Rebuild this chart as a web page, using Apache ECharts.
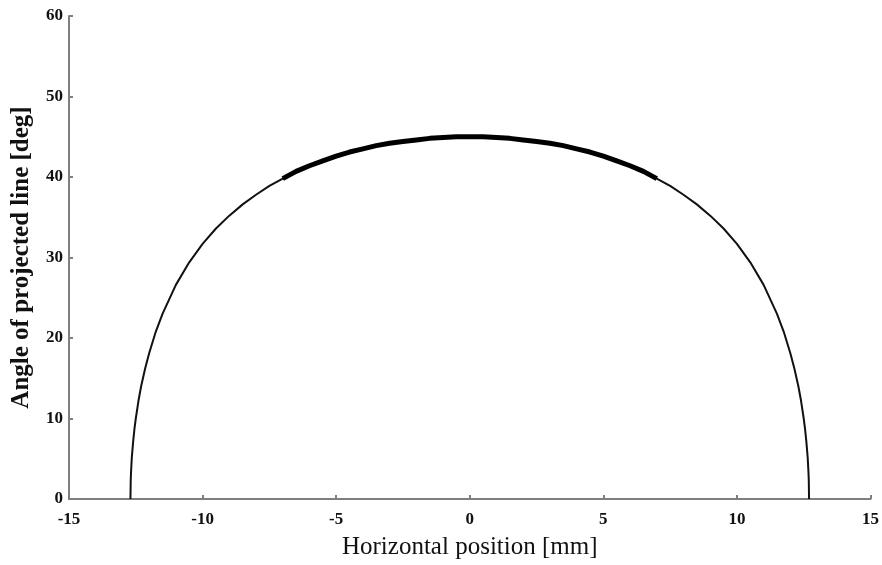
<!DOCTYPE html>
<html>
<head>
<meta charset="utf-8">
<script src="https://cdn.jsdelivr.net/npm/echarts@6/dist/echarts.min.js"></script>
<style>
  html, body { margin: 0; padding: 0; background: #fff; }
  #chart { width: 882px; height: 565px; }
</style>
</head>
<body>
<div id="chart"></div>
<script>
// 曲线数据
var xPos = [-12.7, -12.69, -12.68, -12.65, -12.6, -12.55, -12.5, -12.4, -12.3, -12.15, -12, -11.75, -11.5, -11, -10.5, -10, -9.5, -9, -8.5, -8, -7.5, -7, -6.5, -6, -5.5, -5, -4.5, -4, -3.5, -3, -2.5, -2, -1.5, -1, -0.5,
            0, 0.5, 1, 1.5, 2, 2.5, 3, 3.5, 4, 4.5, 5, 5.5, 6, 6.5, 7, 7.5, 8, 8.5, 9, 9.5, 10, 10.5, 11, 11.5, 11.75, 12, 12.15, 12.3, 12.4, 12.5, 12.55, 12.6, 12.65, 12.68, 12.69, 12.7];
var angle = [0, 2.3, 3.2, 5.1, 7.1, 8.7, 10.0, 12.2, 14.0, 16.2, 18.1, 20.8, 23.0, 26.6, 29.4, 31.7, 33.6, 35.2, 36.6, 37.8, 38.9, 39.8, 40.7, 41.4, 42.0, 42.6, 43.1, 43.5, 43.9, 44.2, 44.4, 44.6, 44.8, 44.9, 45.0,
             45.0, 45.0, 44.9, 44.8, 44.6, 44.4, 44.2, 43.9, 43.5, 43.1, 42.6, 42.0, 41.4, 40.7, 39.8, 38.9, 37.8, 36.6, 35.2, 33.6, 31.7, 29.4, 26.6, 23.0, 20.8, 18.1, 16.2, 14.0, 12.2, 10.0, 8.7, 7.1, 5.1, 3.2, 2.3, 0];
// 粗线段范围
var thickFrom = -7;
var thickTo = 7;
var xTicks = [-15, -10, -5, 0, 5, 10, 15];
var yTicks = [0, 10, 20, 30, 40, 50, 60];

var fullLine = [];
var thickLine = [];
for (var i = 0; i < xPos.length; i++) {
    fullLine.push([xPos[i], angle[i]]);
    if (xPos[i] >= thickFrom && xPos[i] <= thickTo) {
        thickLine.push([xPos[i], angle[i]]);
    }
}

var axisColor = '#7f7f7f';
var fontFam = '"Liberation Serif", "DejaVu Serif", serif';

var chart = echarts.init(document.getElementById('chart'));
var option = {
    animation: false,
    grid: {
        left: 69,
        right: 10,
        top: 16,
        bottom: 65,
        containLabel: false
    },
    xAxis: {
        type: 'value',
        min: xTicks[0],
        max: xTicks[xTicks.length - 1],
        interval: 5,
        name: 'Horizontal position [mm]',
        nameLocation: 'middle',
        nameGap: 36,
        nameTextStyle: { color: '#111', fontSize: 25, fontFamily: fontFam },
        axisLine: { onZero: false, lineStyle: { color: axisColor, width: 2 } },
        axisTick: { inside: true, length: 4, lineStyle: { color: axisColor, width: 2 } },
        axisLabel: { color: '#111', fontSize: 17, fontWeight: 'bold', fontFamily: fontFam, margin: 12 },
        splitLine: { show: false }
    },
    yAxis: {
        type: 'value',
        min: yTicks[0],
        max: yTicks[yTicks.length - 1],
        interval: 10,
        name: 'Angle of projected line [deg]',
        nameLocation: 'middle',
        nameGap: 35,
        nameTextStyle: { color: '#111', fontSize: 25, fontWeight: 'bold', fontFamily: fontFam },
        axisLine: { show: true, onZero: false, lineStyle: { color: axisColor, width: 2 } },
        axisTick: { show: true, inside: true, length: 4, lineStyle: { color: axisColor, width: 2 } },
        axisLabel: { color: '#111', fontSize: 17, fontWeight: 'bold', fontFamily: fontFam, margin: 6 },
        splitLine: { show: false }
    },
    series: [
        {
            type: 'line',
            data: fullLine,
            showSymbol: false,
            lineStyle: { color: '#111', width: 2 },
            z: 2
        },
        {
            type: 'line',
            data: thickLine,
            showSymbol: false,
            lineStyle: { color: '#000', width: 5 },
            z: 3
        }
    ]
};
chart.setOption(option);
</script>
</body>
</html>
